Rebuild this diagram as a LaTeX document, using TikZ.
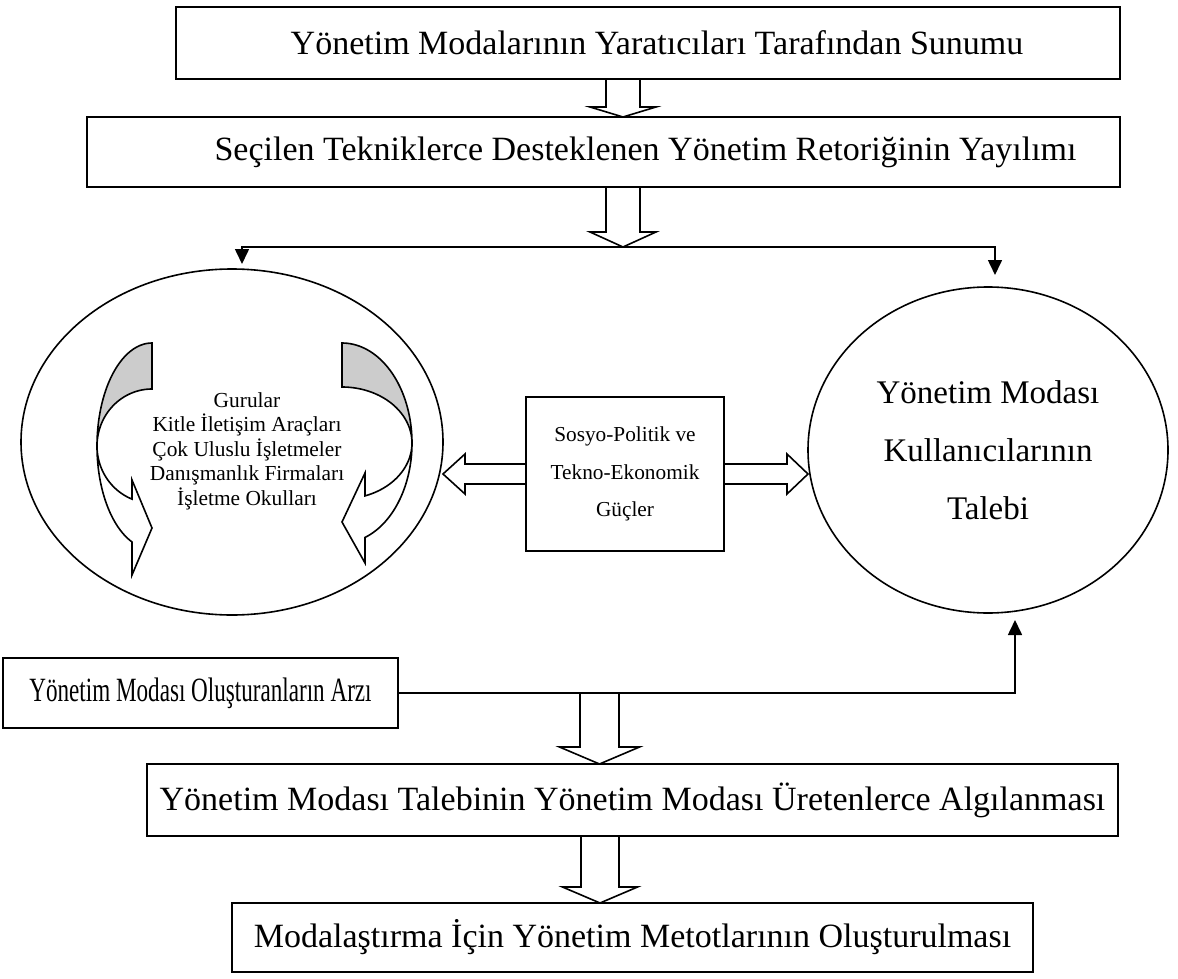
\documentclass[tikz,border=0pt]{standalone}
\usepackage{fontspec}
\setmainfont{Liberation Serif}
\usetikzlibrary{shapes.geometric,arrows.meta,calc}
\tikzstyle{box} = [draw,rectangle,line width=1.6pt,inner sep=0pt,outer sep=0pt,font=\fontsize{34}{40}\selectfont]
\tikzstyle{oval} = [draw,ellipse,line width=1.6pt,inner sep=0pt,outer sep=0pt]
\tikzstyle{arrow} = [-{Triangle[length=15pt,width=14pt]},line width=1.6pt]
\tikzstyle{blk} = [draw,fill=white,line width=1.6pt,line join=miter]
\tikzstyle{twist} = [draw,line width=1.6pt,line join=miter,samples=40]

\newcommand{\vblock}[5]{%
  \draw[blk] let \p1=#1, \p2=#2 in
    (\x2-#3pt,\y1) -- (\x2+#3pt,\y1) -- (\x2+#3pt,\y2+#5pt) -- (\x2+#4pt,\y2+#5pt)
    -- (\x2,\y2) -- (\x2-#4pt,\y2+#5pt) -- (\x2-#3pt,\y2+#5pt) -- cycle;}
\newcommand{\hblock}[5]{%
  \draw[blk] let \p1=#1, \p2=#2, \n1={sign(\x1-\x2)} in
    (\x1,\y2-#3pt) -- (\x2+\n1*#5pt,\y2-#3pt) -- (\x2+\n1*#5pt,\y2-#4pt) -- (\x2,\y2)
    -- (\x2+\n1*#5pt,\y2+#4pt) -- (\x2+\n1*#5pt,\y2+#3pt) -- (\x1,\y2+#3pt) -- cycle;}

\begin{document}
\begin{tikzpicture}[x=1pt,y=-1pt]
    \path[fill=white,use as bounding box] (0,0) rectangle (1178,979);

    \node[box, minimum width=944pt, minimum height=72pt] at (648,43) (b1) {\hspace{18pt}Yönetim Modalarının Yaratıcıları Tarafından Sunumu};
    \node[box, minimum width=1033pt, minimum height=70pt] at (603.5,152) (b2) {\hspace{84pt}Seçilen Tekniklerce Desteklenen Yönetim Retoriğinin Yayılımı};
    \node[box, minimum width=395pt, minimum height=70pt] at (200.5,693) (b3) {\scalebox{0.68}[1]{Yönetim Modası Oluşturanların Arzı}};
    \node[box, minimum width=971pt, minimum height=72pt] at (632.5,800) (b4) {Yönetim Modası Talebinin Yönetim Modası Üretenlerce Algılanması};
    \node[box, minimum width=801pt, minimum height=69pt] at (632.5,937.5) (b5) {Modalaştırma İçin Yönetim Metotlarının Oluşturulması};

    \node[oval, minimum width=422pt, minimum height=346pt] at (232,442) (le) {};
    \node[oval, minimum width=360pt, minimum height=326pt, align=center, font=\fontsize{33}{58}\selectfont] at (988,450) (re) {Yönetim Modası\\Kullanıcılarının\\Talebi};
    \node[align=center, font=\fontsize{21.4}{24.5}\selectfont] at (247,451) (gurus) {Gurular\\Kitle İletişim Araçları\\Çok Uluslu İşletmeler\\Danışmanlık Firmaları\\İşletme Okulları};
    \node[box, minimum width=198pt, minimum height=154pt, align=center, font=\fontsize{21.3}{37.5}\selectfont] at (625,474) (mb) {Sosyo-Politik ve\\Tekno-Ekonomik\\Güçler};

    \draw[twist, fill=black!20] plot[domain=270:360] ({152-55*cos(\x)},{446+103*sin(\x)}) -- plot[domain=360:270] ({152-55*cos(\x)},{446+57*sin(\x)}) -- cycle;
    \draw[twist, fill=white] plot[domain=0:68.7] ({152-55*cos(\x)},{446+103*sin(\x)}) -- (132,575) -- (152,528) -- (132,480) -- plot[domain=68.7:0] ({152-55*cos(\x)},{446+57*sin(\x)}) -- cycle;
    \draw[twist, fill=black!20] plot[domain=270:360] ({342+70*cos(\x)},{443+100*sin(\x)}) -- plot[domain=360:270] ({342+70*cos(\x)},{443+56*sin(\x)}) -- cycle;
    \draw[twist, fill=white] plot[domain=0:70.8] ({342+70*cos(\x)},{443+100*sin(\x)}) -- (365,563) -- (342,522) -- (365,473) -- plot[domain=70.8:0] ({342+70*cos(\x)},{443+56*sin(\x)}) -- cycle;

    \coordinate (split) at (623,247);
    \coordinate (ltip) at (242,264);
    \coordinate (rtip) at (995,275);
    \coordinate (rbot) at (1015,620);
    \draw[arrow] (split) -| (ltip);
    \draw[arrow] (split) -| (rtip);
    \draw[arrow] (b3.east) -| (rbot);

    \vblock{(b1.south)}{(b2.north -| 623,0)}{17}{33}{10}
    \vblock{(b2.south)}{(split)}{17}{33}{15}
    \vblock{(b3.east)}{(b4.north -| 599.5,0)}{19.5}{40}{17}
    \vblock{(b4.south)}{(b5.north -| 600,0)}{19}{37.5}{16}
    \hblock{(mb.west)}{(le.east |- mb.west)}{10}{20}{22}
    \hblock{(mb.east)}{(re.west |- mb.east)}{10}{20}{21}

\end{tikzpicture}
\end{document}
